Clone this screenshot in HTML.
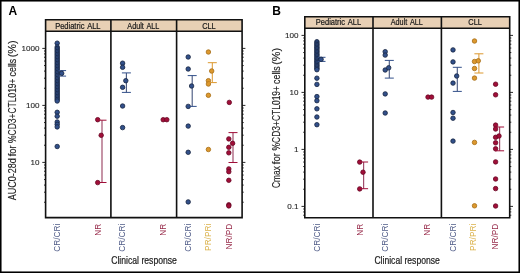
<!DOCTYPE html>
<html><head><meta charset="utf-8"><style>
html,body{margin:0;padding:0;background:#fff;width:520px;height:273px;overflow:hidden}
svg{display:block;will-change:transform;font-family:"Liberation Sans",sans-serif}
</style></head><body>
<svg width="520" height="273" viewBox="0 0 520 273">
<rect x="0" y="0" width="520" height="273" fill="#fff"/>
<rect x="45.6" y="19.8" width="196.5" height="11.399999999999999" fill="#e8d0b5"/>
<text x="77.85" y="28.70" font-size="8.2" text-anchor="middle" fill="#1a1a1a" stroke="#1a1a1a" stroke-width="0.22" word-spacing="1.2" textLength="45.4" lengthAdjust="spacingAndGlyphs">Pediatric ALL</text>
<text x="143.35" y="28.70" font-size="8.2" text-anchor="middle" fill="#1a1a1a" stroke="#1a1a1a" stroke-width="0.22" word-spacing="1.2" textLength="32.1" lengthAdjust="spacingAndGlyphs">Adult ALL</text>
<text x="208.95" y="28.70" font-size="8.2" text-anchor="middle" fill="#1a1a1a" stroke="#1a1a1a" stroke-width="0.22" word-spacing="1.2" textLength="13.6" lengthAdjust="spacingAndGlyphs">CLL</text>
<path d="M44.00 202.24H45.6M242.1 202.24H243.70M44.00 192.20H45.6M242.1 192.20H243.70M44.00 185.08H45.6M242.1 185.08H243.70M44.00 179.56H45.6M242.1 179.56H243.70M44.00 175.05H45.6M242.1 175.05H243.70M44.00 171.23H45.6M242.1 171.23H243.70M44.00 167.92H45.6M242.1 167.92H243.70M44.00 165.01H45.6M242.1 165.01H243.70M42.30 162.40H45.6M242.1 162.40H245.40M44.00 145.24H45.6M242.1 145.24H243.70M44.00 135.20H45.6M242.1 135.20H243.70M44.00 128.08H45.6M242.1 128.08H243.70M44.00 122.56H45.6M242.1 122.56H243.70M44.00 118.05H45.6M242.1 118.05H243.70M44.00 114.23H45.6M242.1 114.23H243.70M44.00 110.92H45.6M242.1 110.92H243.70M44.00 108.01H45.6M242.1 108.01H243.70M42.30 105.40H45.6M242.1 105.40H245.40M44.00 88.24H45.6M242.1 88.24H243.70M44.00 78.20H45.6M242.1 78.20H243.70M44.00 71.08H45.6M242.1 71.08H243.70M44.00 65.56H45.6M242.1 65.56H243.70M44.00 61.05H45.6M242.1 61.05H243.70M44.00 57.23H45.6M242.1 57.23H243.70M44.00 53.92H45.6M242.1 53.92H243.70M44.00 51.01H45.6M242.1 51.01H243.70M42.30 48.40H45.6M242.1 48.40H245.40" stroke="#111" stroke-width="0.9" fill="none"/>
<text x="39.40" y="165.30" font-size="8.1" text-anchor="end" fill="#222" stroke="#222" stroke-width="0.1">10</text>
<text x="39.40" y="108.30" font-size="8.1" text-anchor="end" fill="#222" stroke="#222" stroke-width="0.1">100</text>
<text x="39.40" y="51.30" font-size="8.1" text-anchor="end" fill="#222" stroke="#222" stroke-width="0.1">1000</text>
<path d="M45.6 19.8H242.1V217.6H45.6Z M45.6 31.2H242.1M110.9 19.8V217.6M176.6 19.8V217.6" stroke="#111" stroke-width="1.6" fill="none"/>
<circle cx="57.20" cy="43.20" r="2.25" fill="#32508a" stroke="#172440" stroke-width="0.8"/>
<circle cx="57.20" cy="47.00" r="2.25" fill="#32508a" stroke="#172440" stroke-width="0.8"/>
<circle cx="57.20" cy="48.50" r="2.25" fill="#32508a" stroke="#172440" stroke-width="0.8"/>
<circle cx="57.20" cy="50.00" r="2.25" fill="#32508a" stroke="#172440" stroke-width="0.8"/>
<circle cx="57.20" cy="51.50" r="2.25" fill="#32508a" stroke="#172440" stroke-width="0.8"/>
<circle cx="57.20" cy="53.00" r="2.25" fill="#32508a" stroke="#172440" stroke-width="0.8"/>
<circle cx="57.20" cy="54.50" r="2.25" fill="#32508a" stroke="#172440" stroke-width="0.8"/>
<circle cx="57.20" cy="56.00" r="2.25" fill="#32508a" stroke="#172440" stroke-width="0.8"/>
<circle cx="57.20" cy="57.50" r="2.25" fill="#32508a" stroke="#172440" stroke-width="0.8"/>
<circle cx="57.20" cy="59.00" r="2.25" fill="#32508a" stroke="#172440" stroke-width="0.8"/>
<circle cx="57.20" cy="60.50" r="2.25" fill="#32508a" stroke="#172440" stroke-width="0.8"/>
<circle cx="57.20" cy="62.00" r="2.25" fill="#32508a" stroke="#172440" stroke-width="0.8"/>
<circle cx="57.20" cy="63.50" r="2.25" fill="#32508a" stroke="#172440" stroke-width="0.8"/>
<circle cx="57.20" cy="65.00" r="2.25" fill="#32508a" stroke="#172440" stroke-width="0.8"/>
<circle cx="57.20" cy="66.50" r="2.25" fill="#32508a" stroke="#172440" stroke-width="0.8"/>
<circle cx="57.20" cy="68.00" r="2.25" fill="#32508a" stroke="#172440" stroke-width="0.8"/>
<circle cx="57.20" cy="69.50" r="2.25" fill="#32508a" stroke="#172440" stroke-width="0.8"/>
<circle cx="57.20" cy="71.00" r="2.25" fill="#32508a" stroke="#172440" stroke-width="0.8"/>
<circle cx="57.20" cy="72.50" r="2.25" fill="#32508a" stroke="#172440" stroke-width="0.8"/>
<circle cx="57.20" cy="74.00" r="2.25" fill="#32508a" stroke="#172440" stroke-width="0.8"/>
<circle cx="57.20" cy="75.50" r="2.25" fill="#32508a" stroke="#172440" stroke-width="0.8"/>
<circle cx="57.20" cy="77.00" r="2.25" fill="#32508a" stroke="#172440" stroke-width="0.8"/>
<circle cx="57.20" cy="78.50" r="2.25" fill="#32508a" stroke="#172440" stroke-width="0.8"/>
<circle cx="57.20" cy="80.00" r="2.25" fill="#32508a" stroke="#172440" stroke-width="0.8"/>
<circle cx="57.20" cy="81.50" r="2.25" fill="#32508a" stroke="#172440" stroke-width="0.8"/>
<circle cx="57.20" cy="83.00" r="2.25" fill="#32508a" stroke="#172440" stroke-width="0.8"/>
<circle cx="57.20" cy="84.50" r="2.25" fill="#32508a" stroke="#172440" stroke-width="0.8"/>
<circle cx="57.20" cy="86.00" r="2.25" fill="#32508a" stroke="#172440" stroke-width="0.8"/>
<circle cx="57.20" cy="87.50" r="2.25" fill="#32508a" stroke="#172440" stroke-width="0.8"/>
<circle cx="57.20" cy="89.00" r="2.25" fill="#32508a" stroke="#172440" stroke-width="0.8"/>
<circle cx="57.20" cy="90.50" r="2.25" fill="#32508a" stroke="#172440" stroke-width="0.8"/>
<circle cx="57.20" cy="92.00" r="2.25" fill="#32508a" stroke="#172440" stroke-width="0.8"/>
<circle cx="57.20" cy="93.50" r="2.25" fill="#32508a" stroke="#172440" stroke-width="0.8"/>
<circle cx="57.20" cy="95.00" r="2.25" fill="#32508a" stroke="#172440" stroke-width="0.8"/>
<circle cx="57.20" cy="96.50" r="2.25" fill="#32508a" stroke="#172440" stroke-width="0.8"/>
<circle cx="57.20" cy="98.00" r="2.25" fill="#32508a" stroke="#172440" stroke-width="0.8"/>
<circle cx="57.20" cy="99.50" r="2.25" fill="#32508a" stroke="#172440" stroke-width="0.8"/>
<circle cx="57.20" cy="101.00" r="2.25" fill="#32508a" stroke="#172440" stroke-width="0.8"/>
<circle cx="57.20" cy="112.30" r="2.25" fill="#32508a" stroke="#172440" stroke-width="0.8"/>
<circle cx="57.20" cy="116.20" r="2.25" fill="#32508a" stroke="#172440" stroke-width="0.8"/>
<circle cx="57.20" cy="122.00" r="2.25" fill="#32508a" stroke="#172440" stroke-width="0.8"/>
<circle cx="57.20" cy="124.30" r="2.25" fill="#32508a" stroke="#172440" stroke-width="0.8"/>
<circle cx="57.20" cy="126.90" r="2.25" fill="#32508a" stroke="#172440" stroke-width="0.8"/>
<circle cx="57.20" cy="146.50" r="2.25" fill="#32508a" stroke="#172440" stroke-width="0.8"/>
<g stroke="#32508a" stroke-width="1" fill="none"><line x1="62.3" y1="70.6" x2="62.3" y2="76.1" stroke="#46567e" stroke-width="1.1"/><line x1="58.5" y1="70.6" x2="66.1" y2="70.6"/><line x1="58.5" y1="76.1" x2="66.1" y2="76.1"/></g>
<circle cx="61.70" cy="73.30" r="2.25" fill="#32508a" stroke="#172440" stroke-width="0.8"/>
<circle cx="97.70" cy="119.70" r="2.25" fill="#a00e38" stroke="#680824" stroke-width="0.8"/>
<circle cx="97.70" cy="182.60" r="2.25" fill="#a00e38" stroke="#680824" stroke-width="0.8"/>
<g stroke="#a00e38" stroke-width="1" fill="none"><line x1="102.0" y1="120.2" x2="102.0" y2="182.5" stroke="#a04d6c" stroke-width="1.2"/><line x1="97.5" y1="120.2" x2="106.5" y2="120.2"/><line x1="97.5" y1="182.5" x2="106.5" y2="182.5"/></g>
<circle cx="101.20" cy="135.30" r="2.25" fill="#a00e38" stroke="#680824" stroke-width="0.8"/>
<circle cx="122.60" cy="63.20" r="2.25" fill="#32508a" stroke="#172440" stroke-width="0.8"/>
<circle cx="122.60" cy="67.30" r="2.25" fill="#32508a" stroke="#172440" stroke-width="0.8"/>
<circle cx="122.60" cy="87.30" r="2.25" fill="#32508a" stroke="#172440" stroke-width="0.8"/>
<circle cx="122.60" cy="106.00" r="2.25" fill="#32508a" stroke="#172440" stroke-width="0.8"/>
<circle cx="122.60" cy="127.60" r="2.25" fill="#32508a" stroke="#172440" stroke-width="0.8"/>
<g stroke="#32508a" stroke-width="1" fill="none"><line x1="126.4" y1="72.9" x2="126.4" y2="92.4" stroke="#46567e" stroke-width="1.1"/><line x1="121.9" y1="72.9" x2="130.9" y2="72.9"/><line x1="121.9" y1="92.4" x2="130.9" y2="92.4"/></g>
<circle cx="125.80" cy="80.70" r="2.25" fill="#32508a" stroke="#172440" stroke-width="0.8"/>
<circle cx="163.20" cy="119.70" r="2.25" fill="#a00e38" stroke="#680824" stroke-width="0.8"/>
<circle cx="166.80" cy="119.70" r="2.25" fill="#a00e38" stroke="#680824" stroke-width="0.8"/>
<circle cx="188.20" cy="57.00" r="2.25" fill="#32508a" stroke="#172440" stroke-width="0.8"/>
<circle cx="188.20" cy="69.00" r="2.25" fill="#32508a" stroke="#172440" stroke-width="0.8"/>
<circle cx="188.20" cy="106.40" r="2.25" fill="#32508a" stroke="#172440" stroke-width="0.8"/>
<circle cx="188.20" cy="126.10" r="2.25" fill="#32508a" stroke="#172440" stroke-width="0.8"/>
<circle cx="188.20" cy="152.30" r="2.25" fill="#32508a" stroke="#172440" stroke-width="0.8"/>
<circle cx="188.20" cy="201.90" r="2.25" fill="#32508a" stroke="#172440" stroke-width="0.8"/>
<g stroke="#32508a" stroke-width="1" fill="none"><line x1="192.2" y1="75.6" x2="192.2" y2="106.4" stroke="#46567e" stroke-width="1.1"/><line x1="187.7" y1="75.6" x2="196.7" y2="75.6"/><line x1="187.7" y1="106.4" x2="196.7" y2="106.4"/></g>
<circle cx="191.60" cy="86.00" r="2.25" fill="#32508a" stroke="#172440" stroke-width="0.8"/>
<circle cx="208.40" cy="52.00" r="2.25" fill="#dc982e" stroke="#a66c14" stroke-width="0.8"/>
<circle cx="208.40" cy="80.70" r="2.25" fill="#dc982e" stroke="#a66c14" stroke-width="0.8"/>
<circle cx="208.40" cy="84.00" r="2.25" fill="#dc982e" stroke="#a66c14" stroke-width="0.8"/>
<circle cx="208.40" cy="95.30" r="2.25" fill="#dc982e" stroke="#a66c14" stroke-width="0.8"/>
<circle cx="208.40" cy="149.50" r="2.25" fill="#dc982e" stroke="#a66c14" stroke-width="0.8"/>
<g stroke="#dc982e" stroke-width="1" fill="none"><line x1="212.3" y1="62.7" x2="212.3" y2="82.6" stroke="#dc982e" stroke-width="1"/><line x1="207.8" y1="62.7" x2="216.8" y2="62.7"/><line x1="207.8" y1="82.6" x2="216.8" y2="82.6"/></g>
<circle cx="211.70" cy="71.00" r="2.25" fill="#dc982e" stroke="#a66c14" stroke-width="0.8"/>
<circle cx="229.30" cy="102.40" r="2.25" fill="#a00e38" stroke="#680824" stroke-width="0.8"/>
<circle cx="228.80" cy="138.90" r="2.25" fill="#a00e38" stroke="#680824" stroke-width="0.8"/>
<circle cx="228.80" cy="147.30" r="2.25" fill="#a00e38" stroke="#680824" stroke-width="0.8"/>
<circle cx="228.80" cy="152.80" r="2.25" fill="#a00e38" stroke="#680824" stroke-width="0.8"/>
<circle cx="228.80" cy="168.90" r="2.25" fill="#a00e38" stroke="#680824" stroke-width="0.8"/>
<circle cx="228.80" cy="171.70" r="2.25" fill="#a00e38" stroke="#680824" stroke-width="0.8"/>
<circle cx="228.80" cy="180.30" r="2.25" fill="#a00e38" stroke="#680824" stroke-width="0.8"/>
<circle cx="228.80" cy="204.80" r="2.25" fill="#a00e38" stroke="#680824" stroke-width="0.8"/>
<circle cx="228.80" cy="205.90" r="2.25" fill="#a00e38" stroke="#680824" stroke-width="0.8"/>
<g stroke="#a00e38" stroke-width="1" fill="none"><line x1="233.0" y1="132.6" x2="233.0" y2="162.5" stroke="#a04d6c" stroke-width="1.2"/><line x1="228.5" y1="132.6" x2="237.5" y2="132.6"/><line x1="228.5" y1="162.5" x2="237.5" y2="162.5"/></g>
<circle cx="232.60" cy="143.30" r="2.25" fill="#a00e38" stroke="#680824" stroke-width="0.8"/>
<text transform="translate(60.00,223.7) rotate(-90)" x="0" y="0" font-size="8.3" text-anchor="end" fill="#505c88">CR/CRi</text>
<text transform="translate(100.90,223.7) rotate(-90)" x="0" y="0" font-size="8.3" text-anchor="end" fill="#962848">NR</text>
<text transform="translate(124.90,223.7) rotate(-90)" x="0" y="0" font-size="8.3" text-anchor="end" fill="#505c88">CR/CRi</text>
<text transform="translate(165.90,223.7) rotate(-90)" x="0" y="0" font-size="8.3" text-anchor="end" fill="#962848">NR</text>
<text transform="translate(190.50,223.7) rotate(-90)" x="0" y="0" font-size="8.3" text-anchor="end" fill="#505c88">CR/CRi</text>
<text transform="translate(211.00,223.7) rotate(-90)" x="0" y="0" font-size="8.3" text-anchor="end" fill="#dbb24c">PR/PRi</text>
<text transform="translate(231.50,223.7) rotate(-90)" x="0" y="0" font-size="8.3" text-anchor="end" fill="#962848">NR/PD</text>
<rect x="304.8" y="16.7" width="204.89999999999998" height="11.5" fill="#e8d0b5"/>
<text x="338.50" y="25.30" font-size="8.2" text-anchor="middle" fill="#1a1a1a" stroke="#1a1a1a" stroke-width="0.22" word-spacing="1.2" textLength="45.4" lengthAdjust="spacingAndGlyphs">Pediatric ALL</text>
<text x="406.80" y="25.30" font-size="8.2" text-anchor="middle" fill="#1a1a1a" stroke="#1a1a1a" stroke-width="0.22" word-spacing="1.2" textLength="32.1" lengthAdjust="spacingAndGlyphs">Adult ALL</text>
<text x="475.15" y="25.30" font-size="8.2" text-anchor="middle" fill="#1a1a1a" stroke="#1a1a1a" stroke-width="0.22" word-spacing="1.2" textLength="13.6" lengthAdjust="spacingAndGlyphs">CLL</text>
<path d="M303.20 215.23H304.8M509.7 215.23H511.30M303.20 211.92H304.8M509.7 211.92H511.30M303.20 209.01H304.8M509.7 209.01H511.30M301.50 206.40H304.8M509.7 206.40H513.00M303.20 189.24H304.8M509.7 189.24H511.30M303.20 179.20H304.8M509.7 179.20H511.30M303.20 172.08H304.8M509.7 172.08H511.30M303.20 166.56H304.8M509.7 166.56H511.30M303.20 162.05H304.8M509.7 162.05H511.30M303.20 158.23H304.8M509.7 158.23H511.30M303.20 154.92H304.8M509.7 154.92H511.30M303.20 152.01H304.8M509.7 152.01H511.30M301.50 149.40H304.8M509.7 149.40H513.00M303.20 132.24H304.8M509.7 132.24H511.30M303.20 122.20H304.8M509.7 122.20H511.30M303.20 115.08H304.8M509.7 115.08H511.30M303.20 109.56H304.8M509.7 109.56H511.30M303.20 105.05H304.8M509.7 105.05H511.30M303.20 101.23H304.8M509.7 101.23H511.30M303.20 97.92H304.8M509.7 97.92H511.30M303.20 95.01H304.8M509.7 95.01H511.30M301.50 92.40H304.8M509.7 92.40H513.00M303.20 75.24H304.8M509.7 75.24H511.30M303.20 65.20H304.8M509.7 65.20H511.30M303.20 58.08H304.8M509.7 58.08H511.30M303.20 52.56H304.8M509.7 52.56H511.30M303.20 48.05H304.8M509.7 48.05H511.30M303.20 44.23H304.8M509.7 44.23H511.30M303.20 40.92H304.8M509.7 40.92H511.30M303.20 38.01H304.8M509.7 38.01H511.30M301.50 35.40H304.8M509.7 35.40H513.00" stroke="#111" stroke-width="0.9" fill="none"/>
<text x="298.60" y="209.30" font-size="8.1" text-anchor="end" fill="#222" stroke="#222" stroke-width="0.1">0.1</text>
<text x="298.60" y="152.30" font-size="8.1" text-anchor="end" fill="#222" stroke="#222" stroke-width="0.1">1</text>
<text x="298.60" y="95.30" font-size="8.1" text-anchor="end" fill="#222" stroke="#222" stroke-width="0.1">10</text>
<text x="298.60" y="38.30" font-size="8.1" text-anchor="end" fill="#222" stroke="#222" stroke-width="0.1">100</text>
<path d="M304.8 16.7H509.7V217.8H304.8Z M304.8 28.2H509.7M373.0 16.7V217.8M441.4 16.7V217.8" stroke="#111" stroke-width="1.6" fill="none"/>
<circle cx="316.90" cy="41.70" r="2.25" fill="#32508a" stroke="#172440" stroke-width="0.8"/>
<circle cx="316.90" cy="43.10" r="2.25" fill="#32508a" stroke="#172440" stroke-width="0.8"/>
<circle cx="316.90" cy="44.50" r="2.25" fill="#32508a" stroke="#172440" stroke-width="0.8"/>
<circle cx="316.90" cy="45.90" r="2.25" fill="#32508a" stroke="#172440" stroke-width="0.8"/>
<circle cx="316.90" cy="47.30" r="2.25" fill="#32508a" stroke="#172440" stroke-width="0.8"/>
<circle cx="316.90" cy="48.70" r="2.25" fill="#32508a" stroke="#172440" stroke-width="0.8"/>
<circle cx="316.90" cy="50.10" r="2.25" fill="#32508a" stroke="#172440" stroke-width="0.8"/>
<circle cx="316.90" cy="51.50" r="2.25" fill="#32508a" stroke="#172440" stroke-width="0.8"/>
<circle cx="316.90" cy="52.90" r="2.25" fill="#32508a" stroke="#172440" stroke-width="0.8"/>
<circle cx="316.90" cy="54.30" r="2.25" fill="#32508a" stroke="#172440" stroke-width="0.8"/>
<circle cx="316.90" cy="55.70" r="2.25" fill="#32508a" stroke="#172440" stroke-width="0.8"/>
<circle cx="316.90" cy="57.10" r="2.25" fill="#32508a" stroke="#172440" stroke-width="0.8"/>
<circle cx="316.90" cy="58.50" r="2.25" fill="#32508a" stroke="#172440" stroke-width="0.8"/>
<circle cx="316.90" cy="59.90" r="2.25" fill="#32508a" stroke="#172440" stroke-width="0.8"/>
<circle cx="316.90" cy="61.30" r="2.25" fill="#32508a" stroke="#172440" stroke-width="0.8"/>
<circle cx="316.90" cy="62.70" r="2.25" fill="#32508a" stroke="#172440" stroke-width="0.8"/>
<circle cx="316.90" cy="64.10" r="2.25" fill="#32508a" stroke="#172440" stroke-width="0.8"/>
<circle cx="316.90" cy="65.50" r="2.25" fill="#32508a" stroke="#172440" stroke-width="0.8"/>
<circle cx="316.90" cy="66.90" r="2.25" fill="#32508a" stroke="#172440" stroke-width="0.8"/>
<circle cx="316.90" cy="68.30" r="2.25" fill="#32508a" stroke="#172440" stroke-width="0.8"/>
<circle cx="316.90" cy="69.70" r="2.25" fill="#32508a" stroke="#172440" stroke-width="0.8"/>
<circle cx="316.90" cy="78.20" r="2.25" fill="#32508a" stroke="#172440" stroke-width="0.8"/>
<circle cx="316.90" cy="84.40" r="2.25" fill="#32508a" stroke="#172440" stroke-width="0.8"/>
<circle cx="316.90" cy="96.60" r="2.25" fill="#32508a" stroke="#172440" stroke-width="0.8"/>
<circle cx="316.90" cy="100.70" r="2.25" fill="#32508a" stroke="#172440" stroke-width="0.8"/>
<circle cx="316.90" cy="108.80" r="2.25" fill="#32508a" stroke="#172440" stroke-width="0.8"/>
<circle cx="316.90" cy="117.00" r="2.25" fill="#32508a" stroke="#172440" stroke-width="0.8"/>
<circle cx="316.90" cy="124.70" r="2.25" fill="#32508a" stroke="#172440" stroke-width="0.8"/>
<g stroke="#32508a" stroke-width="1" fill="none"><line x1="321.7" y1="57.3" x2="321.7" y2="61.4" stroke="#46567e" stroke-width="1.1"/><line x1="317.9" y1="57.3" x2="325.5" y2="57.3"/><line x1="317.9" y1="61.4" x2="325.5" y2="61.4"/></g>
<circle cx="321.10" cy="59.30" r="2.25" fill="#32508a" stroke="#172440" stroke-width="0.8"/>
<circle cx="359.70" cy="162.10" r="2.25" fill="#a00e38" stroke="#680824" stroke-width="0.8"/>
<circle cx="359.70" cy="188.90" r="2.25" fill="#a00e38" stroke="#680824" stroke-width="0.8"/>
<g stroke="#a00e38" stroke-width="1" fill="none"><line x1="363.6" y1="162.0" x2="363.6" y2="188.7" stroke="#a04d6c" stroke-width="1.2"/><line x1="359.1" y1="162.0" x2="368.1" y2="162.0"/><line x1="359.1" y1="188.7" x2="368.1" y2="188.7"/></g>
<circle cx="363.00" cy="172.20" r="2.25" fill="#a00e38" stroke="#680824" stroke-width="0.8"/>
<circle cx="385.20" cy="51.70" r="2.25" fill="#32508a" stroke="#172440" stroke-width="0.8"/>
<circle cx="385.20" cy="55.10" r="2.25" fill="#32508a" stroke="#172440" stroke-width="0.8"/>
<circle cx="385.20" cy="70.00" r="2.25" fill="#32508a" stroke="#172440" stroke-width="0.8"/>
<circle cx="385.20" cy="93.90" r="2.25" fill="#32508a" stroke="#172440" stroke-width="0.8"/>
<circle cx="385.20" cy="113.00" r="2.25" fill="#32508a" stroke="#172440" stroke-width="0.8"/>
<g stroke="#32508a" stroke-width="1" fill="none"><line x1="389.3" y1="60.4" x2="389.3" y2="78.1" stroke="#46567e" stroke-width="1.1"/><line x1="384.8" y1="60.4" x2="393.8" y2="60.4"/><line x1="384.8" y1="78.1" x2="393.8" y2="78.1"/></g>
<circle cx="388.70" cy="67.80" r="2.25" fill="#32508a" stroke="#172440" stroke-width="0.8"/>
<circle cx="428.00" cy="97.10" r="2.25" fill="#a00e38" stroke="#680824" stroke-width="0.8"/>
<circle cx="431.60" cy="97.10" r="2.25" fill="#a00e38" stroke="#680824" stroke-width="0.8"/>
<circle cx="453.00" cy="49.90" r="2.25" fill="#32508a" stroke="#172440" stroke-width="0.8"/>
<circle cx="453.00" cy="61.90" r="2.25" fill="#32508a" stroke="#172440" stroke-width="0.8"/>
<circle cx="453.00" cy="83.10" r="2.25" fill="#32508a" stroke="#172440" stroke-width="0.8"/>
<circle cx="453.00" cy="112.50" r="2.25" fill="#32508a" stroke="#172440" stroke-width="0.8"/>
<circle cx="453.00" cy="118.20" r="2.25" fill="#32508a" stroke="#172440" stroke-width="0.8"/>
<circle cx="453.00" cy="141.10" r="2.25" fill="#32508a" stroke="#172440" stroke-width="0.8"/>
<g stroke="#32508a" stroke-width="1" fill="none"><line x1="457.3" y1="67.3" x2="457.3" y2="91.4" stroke="#46567e" stroke-width="1.1"/><line x1="452.8" y1="67.3" x2="461.8" y2="67.3"/><line x1="452.8" y1="91.4" x2="461.8" y2="91.4"/></g>
<circle cx="456.70" cy="76.00" r="2.25" fill="#32508a" stroke="#172440" stroke-width="0.8"/>
<circle cx="474.50" cy="41.00" r="2.25" fill="#dc982e" stroke="#a66c14" stroke-width="0.8"/>
<circle cx="474.50" cy="61.50" r="2.25" fill="#dc982e" stroke="#a66c14" stroke-width="0.8"/>
<circle cx="474.50" cy="68.50" r="2.25" fill="#dc982e" stroke="#a66c14" stroke-width="0.8"/>
<circle cx="474.50" cy="78.10" r="2.25" fill="#dc982e" stroke="#a66c14" stroke-width="0.8"/>
<circle cx="474.50" cy="142.40" r="2.25" fill="#dc982e" stroke="#a66c14" stroke-width="0.8"/>
<circle cx="474.50" cy="205.80" r="2.25" fill="#dc982e" stroke="#a66c14" stroke-width="0.8"/>
<g stroke="#dc982e" stroke-width="1" fill="none"><line x1="478.9" y1="53.8" x2="478.9" y2="73" stroke="#dc982e" stroke-width="1"/><line x1="474.4" y1="53.8" x2="483.4" y2="53.8"/><line x1="474.4" y1="73" x2="483.4" y2="73"/></g>
<circle cx="478.30" cy="60.80" r="2.25" fill="#dc982e" stroke="#a66c14" stroke-width="0.8"/>
<circle cx="495.60" cy="84.20" r="2.25" fill="#a00e38" stroke="#680824" stroke-width="0.8"/>
<circle cx="495.60" cy="94.80" r="2.25" fill="#a00e38" stroke="#680824" stroke-width="0.8"/>
<circle cx="495.60" cy="125.10" r="2.25" fill="#a00e38" stroke="#680824" stroke-width="0.8"/>
<circle cx="495.60" cy="129.00" r="2.25" fill="#a00e38" stroke="#680824" stroke-width="0.8"/>
<circle cx="495.60" cy="137.30" r="2.25" fill="#a00e38" stroke="#680824" stroke-width="0.8"/>
<circle cx="495.60" cy="142.80" r="2.25" fill="#a00e38" stroke="#680824" stroke-width="0.8"/>
<circle cx="495.60" cy="148.80" r="2.25" fill="#a00e38" stroke="#680824" stroke-width="0.8"/>
<circle cx="495.60" cy="161.90" r="2.25" fill="#a00e38" stroke="#680824" stroke-width="0.8"/>
<circle cx="495.60" cy="179.00" r="2.25" fill="#a00e38" stroke="#680824" stroke-width="0.8"/>
<circle cx="495.60" cy="188.60" r="2.25" fill="#a00e38" stroke="#680824" stroke-width="0.8"/>
<circle cx="495.60" cy="206.00" r="2.25" fill="#a00e38" stroke="#680824" stroke-width="0.8"/>
<g stroke="#a00e38" stroke-width="1" fill="none"><line x1="499.6" y1="127" x2="499.6" y2="150.8" stroke="#a04d6c" stroke-width="1.2"/><line x1="495.1" y1="127" x2="504.1" y2="127"/><line x1="495.1" y1="150.8" x2="504.1" y2="150.8"/></g>
<circle cx="499.00" cy="136.00" r="2.25" fill="#a00e38" stroke="#680824" stroke-width="0.8"/>
<text transform="translate(319.90,223.7) rotate(-90)" x="0" y="0" font-size="8.3" text-anchor="end" fill="#505c88">CR/CRi</text>
<text transform="translate(363.10,223.7) rotate(-90)" x="0" y="0" font-size="8.3" text-anchor="end" fill="#962848">NR</text>
<text transform="translate(388.40,223.7) rotate(-90)" x="0" y="0" font-size="8.3" text-anchor="end" fill="#505c88">CR/CRi</text>
<text transform="translate(430.10,223.7) rotate(-90)" x="0" y="0" font-size="8.3" text-anchor="end" fill="#962848">NR</text>
<text transform="translate(455.90,223.7) rotate(-90)" x="0" y="0" font-size="8.3" text-anchor="end" fill="#505c88">CR/CRi</text>
<text transform="translate(476.40,223.7) rotate(-90)" x="0" y="0" font-size="8.3" text-anchor="end" fill="#dbb24c">PR/PRi</text>
<text transform="translate(497.60,223.7) rotate(-90)" x="0" y="0" font-size="8.3" text-anchor="end" fill="#962848">NR/PD</text>
<text x="8.5" y="14.6" font-size="12" font-weight="bold" fill="#000">A</text>
<text x="272.3" y="14.6" font-size="12" font-weight="bold" fill="#000">B</text>
<text transform="translate(16,200.20) rotate(-90)" font-size="10.2" fill="#222" stroke="#222" stroke-width="0.15" textLength="42.10" lengthAdjust="spacingAndGlyphs">AUC0-28d</text>
<text transform="translate(16,156.30) rotate(-90)" font-size="10.2" fill="#222" stroke="#222" stroke-width="0.15" textLength="11.00" lengthAdjust="spacingAndGlyphs">for</text>
<text transform="translate(16,142.90) rotate(-90)" font-size="10.2" fill="#222" stroke="#222" stroke-width="0.15" textLength="64.40" lengthAdjust="spacingAndGlyphs">%CD3+CTL019+</text>
<text transform="translate(16,76.50) rotate(-90)" font-size="10.2" fill="#222" stroke="#222" stroke-width="0.15" textLength="17.80" lengthAdjust="spacingAndGlyphs">cells</text>
<text transform="translate(16,57.30) rotate(-90)" font-size="10.2" fill="#222" stroke="#222" stroke-width="0.15" textLength="16.80" lengthAdjust="spacingAndGlyphs">(%)</text>
<text transform="translate(280.1,187.90) rotate(-90)" font-size="10.2" fill="#222" stroke="#222" stroke-width="0.15" textLength="21.70" lengthAdjust="spacingAndGlyphs">Cmax</text>
<text transform="translate(280.1,164.20) rotate(-90)" font-size="10.2" fill="#222" stroke="#222" stroke-width="0.15" textLength="11.00" lengthAdjust="spacingAndGlyphs">for</text>
<text transform="translate(280.1,150.40) rotate(-90)" font-size="10.2" fill="#222" stroke="#222" stroke-width="0.15" textLength="64.40" lengthAdjust="spacingAndGlyphs">%CD3+CTL019+</text>
<text transform="translate(280.1,84.00) rotate(-90)" font-size="10.2" fill="#222" stroke="#222" stroke-width="0.15" textLength="17.80" lengthAdjust="spacingAndGlyphs">cells</text>
<text transform="translate(280.1,64.80) rotate(-90)" font-size="10.2" fill="#222" stroke="#222" stroke-width="0.15" textLength="16.80" lengthAdjust="spacingAndGlyphs">(%)</text>
<text x="111.2" y="263.8" font-size="10.2" fill="#222" stroke="#222" stroke-width="0.22" textLength="65.7" lengthAdjust="spacingAndGlyphs">Clinical response</text>
<text x="374.4" y="263.8" font-size="10.2" fill="#222" stroke="#222" stroke-width="0.22" textLength="65.4" lengthAdjust="spacingAndGlyphs">Clinical response</text>
<rect x="0.75" y="0.75" width="518.5" height="271.5" fill="none" stroke="#000" stroke-width="1.6"/>
</svg>
</body></html>
